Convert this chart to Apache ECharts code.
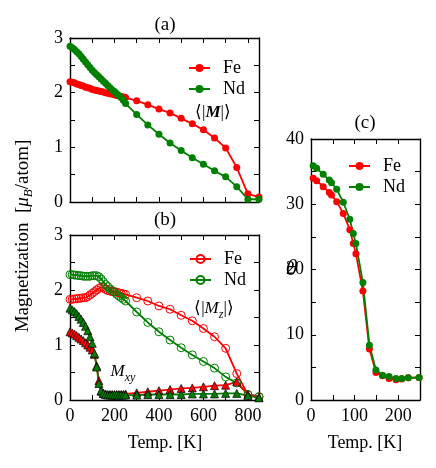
<!DOCTYPE html>
<html><head><meta charset="utf-8">
<script src="https://cdn.jsdelivr.net/npm/echarts@6/dist/echarts.min.js"></script>
<style>html,body{margin:0;padding:0;background:#fff}#c{width:436px;height:468px}</style>
</head><body><div id="c"></div>
<script>
// ---- data ----
const aTemp = [0,10,20,30,40,50,60,70,80,90,100,110,120,130,140,150,160,170,180,190,200,210,220,230,240,250,300,350,400,450,500,550,600,650,700,750,800,850];
const aFe = [2.20,2.19,2.18,2.16,2.15,2.13,2.12,2.10,2.09,2.08,2.06,2.05,2.04,2.03,2.02,2.01,2.00,1.99,1.98,1.97,1.96,1.95,1.94,1.93,1.92,1.91,1.85,1.78,1.70,1.63,1.53,1.43,1.32,1.17,0.99,0.63,0.15,0.09];
const aNd = [2.85,2.82,2.79,2.75,2.71,2.66,2.61,2.56,2.51,2.46,2.41,2.37,2.33,2.29,2.25,2.21,2.17,2.13,2.09,2.05,2.02,1.98,1.95,1.91,1.86,1.80,1.60,1.41,1.24,1.08,0.94,0.81,0.69,0.57,0.46,0.28,0.05,0.05];
const bTemp = aTemp;
const bFeMz = [1.83,1.83,1.84,1.84,1.85,1.85,1.86,1.86,1.88,1.91,1.94,1.97,2.00,2.03,2.05,2.04,2.01,1.99,1.98,1.97,1.97,1.96,1.95,1.94,1.93,1.92,1.86,1.80,1.71,1.65,1.54,1.44,1.30,1.15,0.94,0.48,0.10,0.06];
const bNdMz = [2.28,2.28,2.27,2.27,2.26,2.26,2.25,2.25,2.25,2.25,2.26,2.26,2.26,2.24,2.20,2.15,2.10,2.06,2.02,1.99,1.96,1.92,1.89,1.86,1.83,1.80,1.60,1.41,1.24,1.09,0.95,0.82,0.70,0.58,0.42,0.31,0.10,0.06];
const bFeMxy = [1.24,1.22,1.20,1.17,1.14,1.11,1.08,1.04,1.00,0.96,0.91,0.83,0.62,0.35,0.16,0.12,0.11,0.10,0.10,0.10,0.10,0.10,0.10,0.10,0.10,0.11,0.13,0.15,0.17,0.19,0.21,0.22,0.24,0.26,0.27,0.33,0.10,0.05];
const bNdMxy = [1.67,1.64,1.61,1.57,1.52,1.47,1.41,1.34,1.26,1.15,1.03,0.85,0.60,0.30,0.17,0.12,0.10,0.09,0.09,0.09,0.09,0.09,0.09,0.09,0.09,0.09,0.09,0.10,0.10,0.10,0.10,0.11,0.11,0.11,0.12,0.12,0.08,0.04];
const cTemp = [5,13,28,42,47,59,74,89,97,103,119,134,149,164,179,195,208,223,248];
const cFe = [34.0,33.6,32.7,31.8,31.4,30.4,28.6,26.1,24.0,22.4,16.7,7.8,4.2,3.7,3.3,3.1,3.2,3.4,3.45];
const cNd = [35.9,35.5,34.6,33.7,33.3,32.3,30.3,27.7,25.5,24.0,18.0,8.4,4.6,3.8,3.6,3.3,3.3,3.4,3.45];
const abTicks = [0,200,400,600,800];
const abYTicks = [0,1,2,3];
const cXTicks = [0,100,200];
const cYTicks = [0,10,20,30,40];

// ---- chart ----
const FONT = 'Liberation Serif';
const RED = '#ff0000', GREEN = '#008000';
const pairs = (xs, ys) => xs.map((x, i) => [x, ys[i]]);
const grids = [
  {left: 70, top: 38, width: 189, height: 164},
  {left: 70, top: 235, width: 189, height: 165},
  {left: 311, top: 139, width: 109, height: 261}
];
const axisLine = {show: true, onZero: false, lineStyle: {color: '#000', width: 1.4}};
const axisTick = {show: true, inside: true, length: 5, lineStyle: {color: '#000', width: 1}};
const lbl = (show, ticks) => ({
  show: show, color: '#000', fontFamily: FONT, fontSize: 18, fontWeight: 'normal', margin: 7,
  showMaxLabel: true, showMinLabel: true,
  formatter: v => ticks.some(t => Math.abs(t - v) < 1e-9) ? String(v) : ''
});
function xAx(g, max, itv, pos, show, ticks) {
  return {type: 'value', gridIndex: g, position: pos, min: 0, max: max, interval: itv,
    axisLine, axisTick, splitLine: {show: false}, axisLabel: lbl(show, ticks)};
}
function yAx(g, max, itv, pos, show, ticks) {
  return {type: 'value', gridIndex: g, position: pos, min: 0, max: max, interval: itv,
    axisLine, axisTick, splitLine: {show: false}, axisLabel: lbl(show, ticks)};
}
const xAxis = [
  xAx(0, 850, 100, 'bottom', false, abTicks), xAx(0, 850, 100, 'top', false, abTicks),
  xAx(1, 850, 100, 'bottom', true, abTicks), xAx(1, 850, 100, 'top', false, abTicks),
  xAx(2, 250, 50, 'bottom', true, cXTicks), xAx(2, 250, 50, 'top', false, cXTicks)
];
const yAxis = [
  yAx(0, 3, 0.5, 'left', true, abYTicks), yAx(0, 3, 0.5, 'right', false, abYTicks),
  yAx(1, 3, 0.5, 'left', true, abYTicks), yAx(1, 3, 0.5, 'right', false, abYTicks),
  yAx(2, 40, 5, 'left', true, cYTicks), yAx(2, 40, 5, 'right', false, cYTicks)
];
function filled(name, ax, data, color, size) {
  return {type: 'line', name, xAxisIndex: ax, yAxisIndex: ax, data, symbol: 'circle', symbolSize: size,
    showSymbol: true, animation: false, itemStyle: {color}, lineStyle: {color, width: 1.8}};
}
function open(name, ax, data, color) {
  return {type: 'line', name, xAxisIndex: ax, yAxisIndex: ax, data, symbol: 'circle', symbolSize: 8,
    animation: false, itemStyle: {color: 'rgba(255,255,255,0)', borderColor: color, borderWidth: 1},
    lineStyle: {color, width: 1.8}};
}
function tri(name, ax, data, color) {
  return {type: 'line', name, xAxisIndex: ax, yAxisIndex: ax, data, symbol: 'triangle', symbolSize: 8,
    animation: false, itemStyle: {color, borderColor: '#000', borderWidth: 0.7},
    lineStyle: {color, width: 1.8}};
}
const series = [
  filled('Fe', 0, pairs(aTemp, aFe), RED, 7),
  filled('Nd', 0, pairs(aTemp, aNd), GREEN, 7),
  open('Fe ', 2, pairs(bTemp, bFeMz), RED),
  open('Nd ', 2, pairs(bTemp, bNdMz), GREEN),
  tri('FeMxy', 2, pairs(bTemp, bFeMxy), RED),
  tri('NdMxy', 2, pairs(bTemp, bNdMxy), GREEN),
  filled('Fe  ', 4, pairs(cTemp, cFe), RED, 7),
  filled('Nd  ', 4, pairs(cTemp, cNd), GREEN, 7)
];
const legTxt = {fontFamily: FONT, fontSize: 18, fontWeight: 'normal', color: '#000', padding: [0, 0, 0, 8]};
const leg = (data, left, top) => ({data, left, top, orient: 'vertical', itemWidth: 21, itemHeight: 10,
  itemGap: 3, selectedMode: false, textStyle: legTxt, formatter: n => n.trim()});
const T = (text, x, y, size, extra) => Object.assign({type: 'text', x, y,
  style: Object.assign({text, fontFamily: FONT, fontSize: size, fontWeight: 'normal', fill: '#000', align: 'center', verticalAlign: 'middle'}, extra || {})});
const mkRich = (s) => ({
  n: {fontFamily: FONT, fontSize: s, fontWeight: 'normal', lineHeight: 24, verticalAlign: 'middle'},
  i: {fontFamily: FONT, fontSize: s, fontWeight: 'normal', fontStyle: 'italic', lineHeight: 24, verticalAlign: 'middle'},
  bi: {fontFamily: FONT, fontSize: s, fontStyle: 'italic', fontWeight: 'bold', lineHeight: 24, verticalAlign: 'middle'},
  sub: {fontFamily: FONT, fontSize: Math.round(s * 0.7), fontWeight: 'normal', fontStyle: 'italic', lineHeight: 12, verticalAlign: 'bottom'}
});
const option = {
  backgroundColor: '#fff',
  animation: false,
  grid: grids,
  xAxis, yAxis, series,
  legend: [leg(['Fe', 'Nd'], 183, 54), leg(['Fe ', 'Nd '], 184, 245), leg(['Fe  ', 'Nd  '], 343, 152)],
  graphic: [
    T('(a)', 165, 25, 19), T('(b)', 165, 220, 19), T('(c)', 365, 123, 19),
    T('Temp. [K]', 165, 443, 18), T('Temp. [K]', 365, 443, 18),
    T('θ', 292, 270, 20, {fontStyle: 'italic', fontFamily: 'DejaVu Serif'}),
    {type: 'text', x: 213, y: 113, style: {text: '{n|⟨|}{bi|M}{n||⟩}', rich: mkRich(17), align: 'center', verticalAlign: 'middle', fill: '#000'}},
    {type: 'text', x: 214, y: 309, style: {text: '{n|⟨|}{i|M}{sub|z}{n||⟩}', rich: mkRich(17), align: 'center', verticalAlign: 'middle', fill: '#000'}},
    {type: 'text', x: 123, y: 372, style: {text: '{i|M}{sub|xy}', rich: mkRich(17), align: 'center', verticalAlign: 'middle', fill: '#000'}},
    {type: 'text', x: 23, y: 236, rotation: Math.PI / 2,
      style: {text: '{n|Magnetization  [}{i|μ}{sub|B}{n|/atom]}', rich: mkRich(19), align: 'center', verticalAlign: 'middle', fill: '#000'}}
  ]
};
const chart = echarts.init(document.getElementById('c'), null, {renderer: 'canvas'});
chart.setOption(option);
</script></body></html>
